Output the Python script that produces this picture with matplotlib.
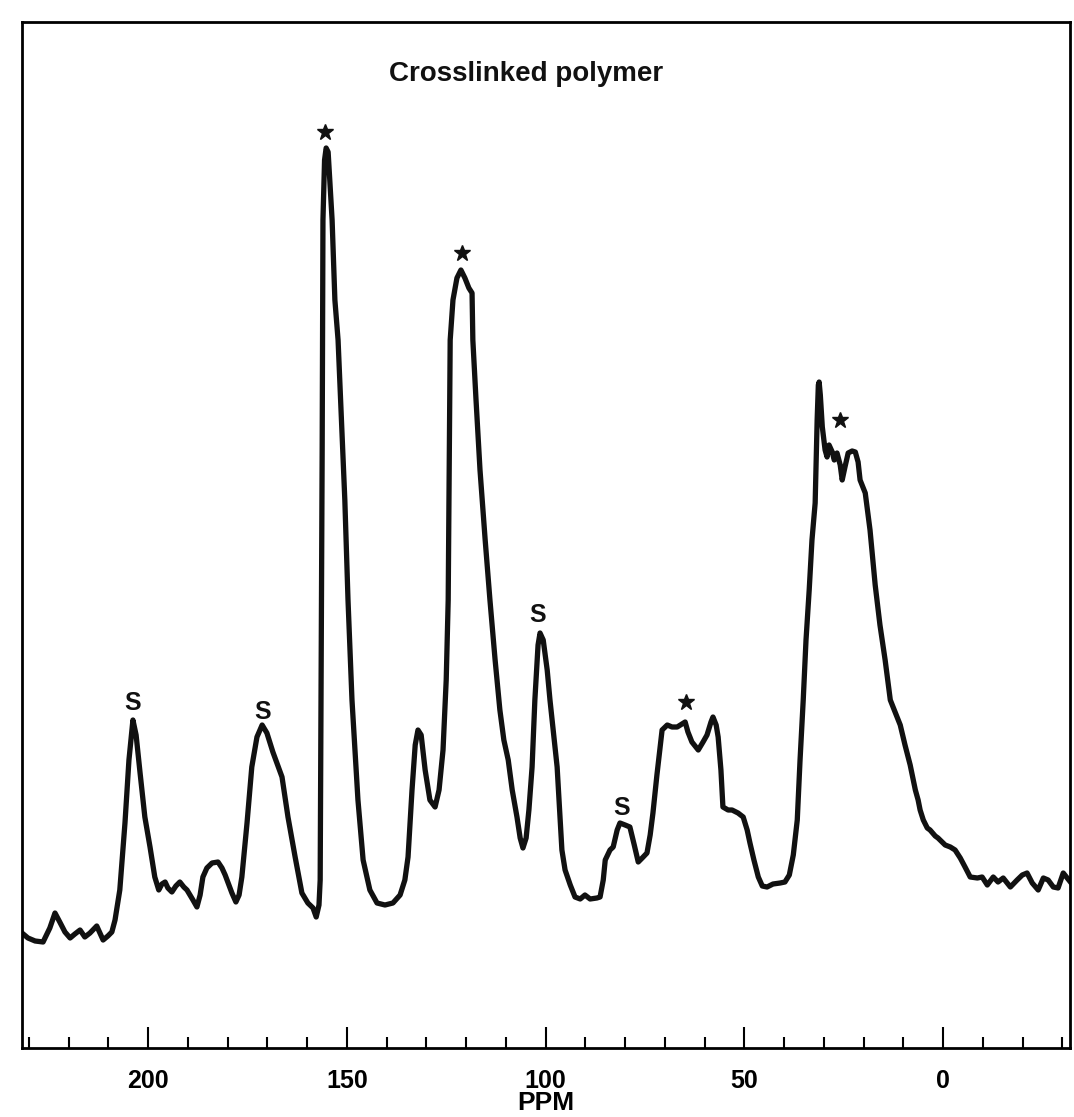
import numpy as np
import matplotlib
matplotlib.use('Agg')
import matplotlib.pyplot as plt
from matplotlib.ticker import MultipleLocator

plt.rcParams['font.family'] = ['Liberation Sans', 'DejaVu Sans']

# spectrum: chemical shift (ppm) and intensity (arb. units)
ppm = [231.7, 230.2, 228.4, 226.4, 224.7, 223.4, 222.2, 220.9, 219.6, 218.4,
       217.1, 215.9, 214.6, 212.9, 211.3, 210.1, 209.1, 208.3, 207.1, 205.8,
       204.8, 203.8, 203.0, 202.0, 200.8, 199.5, 198.3, 197.3, 196.5, 195.7,
       195.0, 194.0, 193.0, 192.0, 191.0, 190.2, 188.7, 187.7, 186.9, 186.2,
       185.2, 183.9, 182.4, 181.4, 180.6, 178.9, 177.9, 177.1, 176.4, 175.1,
       173.9, 172.6, 171.3, 170.1, 168.6, 166.3, 164.8, 163.0, 161.3, 159.8,
       158.5, 157.7, 157.0, 156.7, 156.5, 156.2, 156.0, 155.6, 155.2, 154.7,
       154.0, 153.7, 153.0, 152.2, 150.5, 149.7, 148.7, 147.2, 145.9, 144.2,
       142.4, 140.4, 138.4, 136.6, 135.4, 134.6, 133.6, 132.8, 132.1, 131.3,
       130.3, 129.1, 127.8, 126.8, 125.8, 125.0, 124.5, 124.0, 123.3, 122.3,
       121.3, 120.3, 119.3, 118.5, 118.3, 117.5, 116.5, 115.2, 114.0, 112.7,
       111.5, 110.5, 109.4, 108.4, 107.2, 106.4, 105.7, 104.9, 104.2, 103.4,
       102.7, 101.9, 101.4, 100.6, 99.6, 98.9, 97.1, 95.9, 95.1, 93.8,
       92.6, 91.3, 90.1, 88.8, 87.1, 86.3, 85.5, 85.0, 83.8, 83.0,
       82.0, 81.3, 80.0, 78.8, 77.7, 76.7, 75.7, 74.5, 73.7, 73.0,
       72.0, 70.7, 69.4, 68.2, 66.9, 65.7, 64.9, 64.2, 63.2, 61.6,
       60.4, 59.4, 58.4, 57.9, 57.1, 56.6, 55.9, 55.4, 54.1, 53.1,
       51.6, 50.3, 49.3, 48.6, 47.6, 46.5, 45.5, 44.3, 42.8, 41.0,
       39.8, 38.7, 37.7, 36.7, 36.0, 35.2, 34.5, 33.7, 33.0, 32.2,
       31.7, 31.4, 31.2, 30.9, 30.4, 29.7, 29.2, 28.7, 27.9, 27.4,
       26.7, 25.9, 25.4, 24.7, 23.9, 22.9, 22.1, 21.4, 20.9, 19.6,
       18.4, 17.1, 15.9, 14.6, 13.3, 12.1, 10.8, 9.6, 8.3, 7.0,
       6.3, 5.8, 5.0, 4.0, 3.3, 2.0, 1.3, -0.5, -1.8, -3.0,
       -4.3, -5.5, -6.8, -8.6, -9.8, -11.1, -12.6, -13.8, -15.1, -16.9,
       -18.6, -19.9, -21.1, -22.4, -23.9, -25.2, -26.4, -27.7, -28.9, -30.2,
       -32.0]
intensity = [115, 110, 107, 106, 120, 135, 126, 116, 110, 114,
             118, 111, 115, 122, 108, 112, 116, 128, 158, 225,
             288, 328, 313, 275, 231, 201, 171, 158, 164, 166,
             160, 156, 162, 166, 161, 158, 148, 141, 153, 171,
             180, 185, 186, 180, 173, 155, 146, 153, 171, 225,
             281, 311, 323, 315, 296, 271, 231, 191, 155, 145,
             140, 131, 143, 168, 348, 598, 828, 888, 900, 896,
             848, 828, 748, 708, 548, 448, 348, 248, 188, 158,
             145, 143, 145, 153, 168, 191, 258, 303, 318, 313,
             278, 248, 241, 258, 298, 368, 448, 708, 748, 770,
             778, 770, 760, 755, 708, 648, 578, 508, 448, 388,
             338, 308, 288, 258, 231, 210, 200, 210, 238, 281,
             348, 403, 415, 408, 378, 348, 281, 198, 178, 163,
             151, 149, 153, 149, 150, 151, 168, 188, 198, 201,
             218, 225, 223, 221, 203, 186, 190, 195, 213, 235,
             273, 318, 323, 321, 321, 324, 326, 316, 306, 298,
             306, 313, 326, 331, 323, 311, 278, 241, 238, 238,
             235, 231, 218, 205, 188, 171, 162, 161, 164, 165,
             166, 173, 193, 228, 288, 348, 408, 458, 508, 545,
             628, 663, 666, 653, 621, 598, 591, 603, 596, 588,
             595, 583, 568, 581, 595, 597, 596, 586, 568, 555,
             518, 463, 423, 388, 348, 336, 323, 303, 283, 258,
             248, 238, 228, 220, 218, 212, 210, 203, 201, 198,
             190, 181, 171, 170, 171, 163, 171, 166, 170, 161,
             168, 173, 175, 165, 158, 170, 168, 161, 160, 175,
             166]

# peak markers: solvent peaks "S" and starred peaks
s_ppm = [204.0, 171.3, 102.1, 80.8]
s_int = [345, 336, 433, 240]
star_ppm = [155.5, 121.0, 64.7, 25.9]
star_int = [916, 795, 346, 628]

major_ticks = [200, 150, 100, 50, 0]

fig = plt.figure(figsize=(10.74, 11.17), dpi=100)
ax = fig.add_axes([22 / 1074, 1 - 1048 / 1117, 1048 / 1074, 1026 / 1117])

ax.plot(ppm, intensity, color='#111111', lw=3.8, solid_joinstyle='round')

for x, y in zip(s_ppm, s_int):
    ax.text(x, y, 'S', ha='center', va='center', fontsize=18,
            fontweight='bold', color='#111111')
ax.plot(star_ppm, star_int, ls='none', marker='*', ms=12, color='#111111')

ax.text(105, 974, 'Crosslinked polymer', ha='center', va='center',
        fontsize=20, fontweight='bold', color='#111111')

ax.set_xlim(231.7, -31.9)
ax.set_ylim(0, 1026)
ax.set_xticks(major_ticks)
ax.xaxis.set_minor_locator(MultipleLocator(10))
ax.tick_params(axis='x', which='major', direction='in', length=15, width=1.5,
               labelsize=18, pad=15)
ax.tick_params(axis='x', which='minor', direction='in', length=8, width=1.5)
for lab in ax.get_xticklabels():
    lab.set_fontweight('bold')
ax.tick_params(axis='y', left=False, labelleft=False)
for sp in ax.spines.values():
    sp.set_linewidth(2)
ax.set_xlabel('PPM', fontsize=19, fontweight='bold', labelpad=-1)

fig.savefig('out.png', dpi=100)
